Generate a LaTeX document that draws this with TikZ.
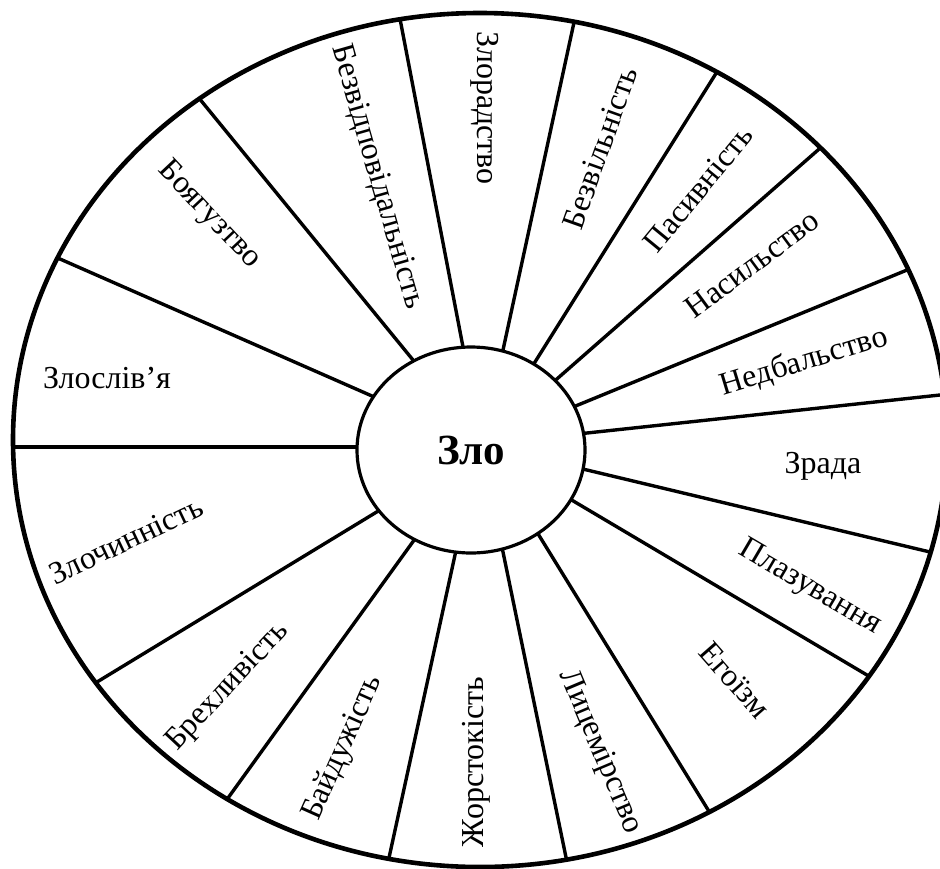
\documentclass[tikz,border=0pt]{standalone}
\usepackage{fontspec}
\setmainfont{Liberation Serif}
\usetikzlibrary{shapes.geometric,calc}
\begin{document}
\begin{tikzpicture}[x=1pt,y=-1pt,
  spoke/.style={line width=3.4pt},
  rim/.style={line width=4.6pt},
  hub/.style={ellipse, draw, line width=3.2pt, fill=white, minimum width=228pt, minimum height=206pt, inner sep=0pt,
    font=\fontsize{43}{48}\selectfont\bfseries},
  lbl/.style={font=\fontsize{32}{36}\selectfont, inner sep=0pt}]
\useasboundingbox (0,0) rectangle (940,868);
\fill[white] (0,0) rectangle (940,868);
% spoke end points
\coordinate (i1) at (355,447);  \coordinate (o1) at (13,447);
\coordinate (i2) at (372,396);  \coordinate (o2) at (60,259);
\coordinate (i3) at (413,360);  \coordinate (o3) at (203,103);
\coordinate (i4) at (463,347);  \coordinate (o4) at (401,24);
\coordinate (i5) at (503,350);  \coordinate (o5) at (573,27);
\coordinate (i6) at (535,362);  \coordinate (o6) at (715,75);
\coordinate (i7) at (558,378);  \coordinate (o7) at (818,150);
\coordinate (i8) at (578,405);  \coordinate (o8) at (907,270);
\coordinate (i9) at (587,433);  \coordinate (o9) at (940,395);
\coordinate (i10) at (587,470); \coordinate (o10) at (930,552);
\coordinate (i11) at (575,502); \coordinate (o11) at (872,678);
\coordinate (i12) at (540,537); \coordinate (o12) at (710,813);
\coordinate (i13) at (503,552); \coordinate (o13) at (568,867);
\coordinate (i14) at (455,555); \coordinate (o14) at (387,867);
\coordinate (i15) at (412,543); \coordinate (o15) at (228,798);
\coordinate (i16) at (375,513); \coordinate (o16) at (97,682);
\begin{scope}
  \clip (0,0) rectangle (940,868);
  \begin{scope}
    \clip (480,440) ellipse [x radius=467pt, y radius=427pt];
    \foreach \k in {1,...,16}{
      \draw[spoke] ($(i\k)!-0.08!(o\k)$) -- ($(i\k)!1.1!(o\k)$);
    }
  \end{scope}
  \draw[rim] (480,440) ellipse [x radius=467pt, y radius=427pt];
\end{scope}
\node[hub] (hub) at (471,450) {Зло};
% labels
\node[lbl] (l1) at (107,378) {Злослів’я};
\node[lbl, rotate=-46.7] (l2) at (209,215) {Боягузтво};
\node[lbl, rotate=-74] (l3) at (377,177) {Безвідповідальність};
\node[lbl, rotate=-90] (l4) at (485,108) {Злорадство};
\node[lbl, rotate=70.4] (l5) at (600,148) {Безвільність};
\node[lbl, rotate=50.6] (l6) at (698,189) {Пасивність};
\node[lbl, rotate=36.4] (l7) at (752,264) {Насильство};
\node[lbl, rotate=16.9] (l8) at (804,362) {Недбальство};
\node[lbl] (l9) at (823,466) {Зрада};
\node[lbl, rotate=-30.4] (l10) at (810,588) {Плазування};
\node[lbl, rotate=-48.7] (l11) at (735,680) {Егоїзм};
\node[lbl, rotate=-67.2] (l12) at (600,752) {Лицемірство};
\node[lbl, rotate=90] (l13) at (476,762) {Жорстокість};
\node[lbl, rotate=65.9] (l14) at (343,748) {Байдужість};
\node[lbl, rotate=46.9] (l15) at (228,687) {Брехливість};
\node[lbl, rotate=25.4] (l16) at (126,540) {Злочинність};
\end{tikzpicture}
\end{document}
